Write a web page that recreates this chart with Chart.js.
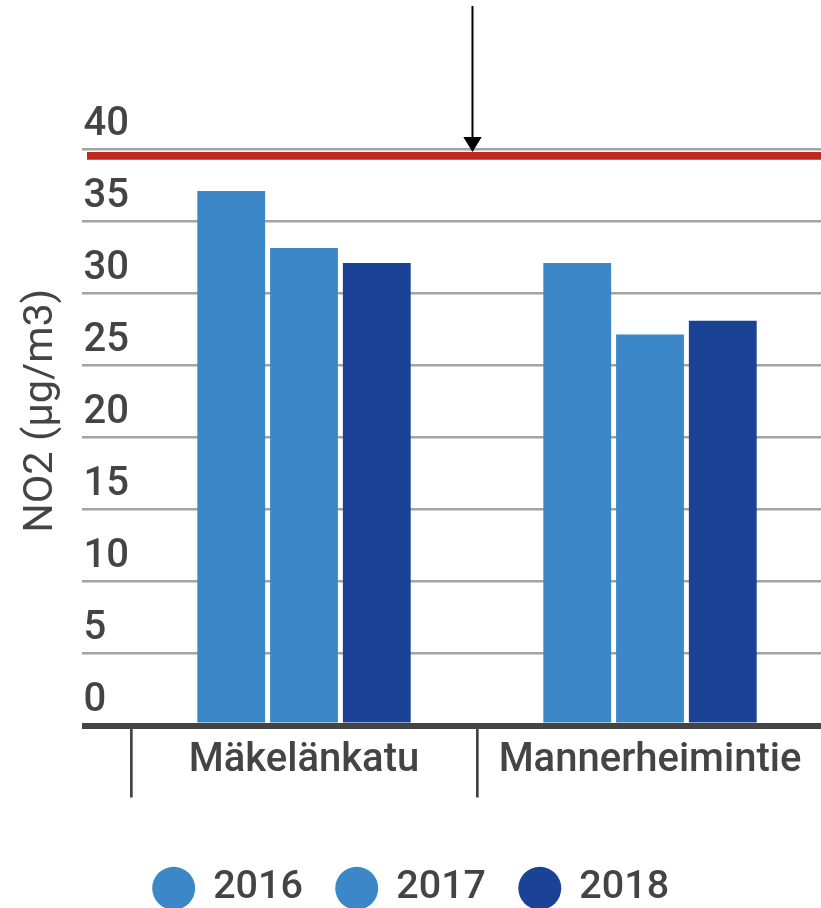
<!DOCTYPE html>
<html>
<head>
<meta charset="utf-8">
<script src="https://cdn.jsdelivr.net/npm/chart.js@4/dist/chart.umd.min.js"></script>
<style>
  html, body { margin: 0; padding: 0; overflow: hidden; background: #fff; }
  canvas { display: block; }
</style>
</head>
<body>
<canvas id="c" width="827" height="908" style="width:827px;height:908px"></canvas>
<script>
// ---- data ----
const categories = ['Mäkelänkatu', 'Mannerheimintie'];
const seriesNames = ['2016', '2017', '2018'];
const values2016 = [37.1, 32.1];
const values2017 = [33.15, 27.15];
const values2018 = [32.1, 28.1];
const yTicks = [0, 5, 10, 15, 20, 25, 30, 35, 40];
const limitValue = 39.55;
const yTitle = 'NO2 (µg/m3)';

const colors = ['#3c87c8', '#3c87c8', '#1a4396'];
const textColor = '#444444';
const font = 'Roboto';

const overlay = {
  id: 'overlay',
  afterDatasetsDraw(chart) {
    const { ctx, scales: { x, y } } = chart;
    const ly = y.getPixelForValue(limitValue);
    ctx.save();
    // limit line
    ctx.strokeStyle = '#bf281e';
    ctx.lineWidth = 7.7;
    ctx.beginPath();
    ctx.moveTo(y.right - 44, ly);
    ctx.lineTo(chart.width, ly);
    ctx.stroke();
    // arrow
    const ax = (x.getPixelForValue(0) + x.getPixelForValue(1)) / 2 - 4.5;
    const tipY = ly - 3.9;
    ctx.strokeStyle = '#000';
    ctx.fillStyle = '#000';
    ctx.lineWidth = 2;
    ctx.beginPath();
    ctx.moveTo(ax, 6);
    ctx.lineTo(ax, tipY - 12);
    ctx.stroke();
    ctx.beginPath();
    ctx.moveTo(ax - 9.2, tipY - 15);
    ctx.lineTo(ax + 9.2, tipY - 15);
    ctx.lineTo(ax, tipY);
    ctx.closePath();
    ctx.fill();
    ctx.restore();
  }
};

const seriesValues = [values2016, values2017, values2018];

new Chart(document.getElementById('c'), {
  type: 'bar',
  data: {
    labels: categories,
    datasets: seriesNames.map((name, i) => ({
      label: name,
      data: seriesValues[i],
      backgroundColor: colors[i],
      borderWidth: 0,
      barPercentage: 0.932,
      categoryPercentage: 0.631
    }))
  },
  options: {
    responsive: false,
    animation: false,
    devicePixelRatio: window.devicePixelRatio || 1,
    layout: { padding: { top: 96, left: 0, right: 4, bottom: -10 } },
    plugins: {
      tooltip: { enabled: false },
      legend: {
        position: 'bottom',
        labels: {
          usePointStyle: true,
          pointStyle: 'circle',
          boxWidth: 40,
          boxHeight: 30.4,
          padding: 34,
          color: textColor,
          font: { family: font, size: 39.5, weight: 500 }
        }
      }
    },
    scales: {
      x: {
        grid: {
          offset: true,
          drawOnChartArea: false,
          drawTicks: true,
          tickLength: 72,
          color: textColor,
          lineWidth: 2.7
        },
        border: { display: false },
        ticks: {
          color: textColor,
          font: { family: font, size: 40, weight: 500 },
          padding: -60.6,
          maxRotation: 0,
          minRotation: 0,
          autoSkip: false
        },
        afterFit(scale) { scale.height = 109; }
      },
      y: {
        min: 0,
        max: 43.7,
        afterBuildTicks(scale) {
          scale.ticks = yTicks.map(v => ({ value: v }));
        },
        grid: {
          drawTicks: true,
          tickLength: 49,
          color: (c) => (c.tick && c.tick.value === 0 ? textColor : '#a3a3a3'),
          lineWidth: (c) => (c.tick && c.tick.value === 0 ? 6 : 2.5)
        },
        border: { display: false },
        ticks: {
          mirror: true,
          padding: -47.5,
          labelOffset: -24.5,
          color: textColor,
          font: { family: font, size: 40, weight: 500 }
        },
        title: {
          display: true,
          text: yTitle,
          color: textColor,
          font: { family: font, size: 41.5, weight: 400 },
          padding: { top: 16.5, bottom: 0 }
        },
        afterFit(scale) { scale.width = 131; }
      }
    }
  },
  plugins: [overlay]
});
</script>
</body>
</html>
